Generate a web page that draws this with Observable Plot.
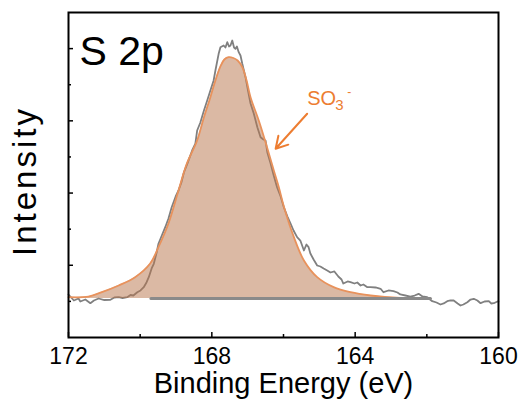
<!DOCTYPE html>
<html><head><meta charset="utf-8">
<script src="https://cdn.jsdelivr.net/npm/d3@7"></script>
<script src="https://cdn.jsdelivr.net/npm/@observablehq/plot@0.6"></script>
<style>
html,body{margin:0;padding:0;background:#fff;}
body{font-family:"Liberation Sans",Arial,sans-serif;}
.ytitle text{letter-spacing:3px;}
</style>
</head><body><div id="chart"></div>
<script>
// Raw S 2p spectrum: [binding energy (eV), intensity (a.u.)]
const rawSpectrum = [
[172.00,1.191],[171.85,1.025],[171.72,1.080],[171.67,0.997],[171.53,1.052],[171.39,0.950],[171.29,1.025],[171.16,1.080],
[171.00,1.038],[170.83,1.044],[170.72,1.108],[170.60,1.116],[170.49,1.094],[170.36,1.116],[170.27,1.177],[170.19,1.163],
[170.08,1.254],[169.99,1.302],[169.90,1.393],[169.82,1.531],[169.76,1.670],[169.68,1.911],[169.62,2.041],[169.54,2.354],
[169.49,2.595],[169.43,2.742],[169.30,3.054],[169.21,3.295],[169.12,3.608],[169.01,3.905],[168.93,4.071],[168.85,4.292],
[168.78,4.569],[168.68,4.819],[168.55,5.179],[168.46,5.372],[168.41,5.732],[168.32,5.954],[168.22,6.286],[168.12,6.591],
[168.04,6.840],[167.95,7.117],[167.90,7.394],[167.81,7.856],[167.76,8.039],[167.67,8.086],[167.62,8.031],[167.57,8.178],
[167.52,8.059],[167.48,8.086],[167.43,8.225],[167.38,8.031],[167.34,7.995],[167.30,8.059],[167.25,7.901],[167.20,7.809],
[167.15,7.580],[167.06,7.209],[166.99,6.840],[166.92,6.480],[166.83,6.203],[166.73,5.824],[166.64,5.547],[166.56,5.483],
[166.50,5.455],[166.45,5.123],[166.36,4.819],[166.28,4.514],[166.18,4.162],[166.08,3.905],[165.99,3.608],[165.89,3.351],
[165.80,3.149],[165.72,2.963],[165.62,2.778],[165.53,2.686],[165.43,2.409],[165.36,2.575],[165.30,2.501],[165.25,2.326],
[165.16,2.160],[165.06,1.994],[164.97,1.966],[164.88,1.911],[164.78,1.855],[164.69,1.800],[164.58,1.828],[164.47,1.689],
[164.38,1.606],[164.33,1.495],[164.21,1.551],[164.13,1.531],[164.02,1.495],[163.94,1.523],[163.85,1.440],[163.77,1.468],
[163.66,1.393],[163.57,1.393],[163.43,1.385],[163.29,1.349],[163.21,1.254],[163.07,1.302],[162.93,1.282],[162.82,1.246],
[162.74,1.191],[162.60,1.163],[162.46,1.135],[162.34,1.163],[162.23,1.210],[162.12,1.135],[161.99,1.116],[161.85,1.005],
[161.73,0.969],[161.62,0.914],[161.53,0.942],[161.43,1.005],[161.34,1.025],[161.25,1.025],[161.14,0.942],[161.06,0.886],
[160.98,0.914],[160.87,0.978],[160.78,1.052],[160.69,1.072],[160.59,1.025],[160.50,0.950],[160.39,0.997],[160.27,1.005],
[160.20,0.942],[160.13,0.950],[160.03,0.997],[160.00,0.997]
];
// Fitted SO3- component: [binding energy (eV), intensity (a.u.)]
const fitSO3 = [
[172.00,1.116],[171.44,1.135],[171.07,1.254],[170.60,1.440],[170.14,1.670],[169.72,2.049],[169.49,2.501],[169.21,3.157],
[168.93,4.071],[168.70,4.810],[168.41,5.455],[168.23,6.065],[168.04,6.655],[167.90,7.117],[167.76,7.505],[167.65,7.699],
[167.53,7.762],[167.40,7.740],[167.28,7.671],[167.15,7.485],[167.03,7.117],[166.92,6.655],[166.69,6.009],[166.46,5.270],
[166.27,4.625],[166.13,4.162],[165.99,3.628],[165.71,2.778],[165.43,2.132],[165.06,1.670],[164.60,1.393],[164.13,1.254],
[163.57,1.163],[162.74,1.094],[161.90,1.080]
];
// Background (flat)
const backgroundBE = [169.7, 161.9];
const backgroundI = [1.08, 1.08];

const xMajorTicks = [172, 168, 164, 160];
const xMinorTicks = [170, 166, 162];
const yMajorTicks = [2, 4, 6, 8];
const yMinorTicks = [1, 3, 5, 7];

const panelLabel = ["S 2p"];
const xTitle = ["Binding Energy (eV)"];
const yTitle = ["Intensity"];
const compLabel = ["SO", "3", "-"];
const arrowFrom = [165.34, 6.195];
const arrowTo = [166.22, 5.226];

const raw = rawSpectrum.map(([be, i]) => ({be, i}));
const fit = fitSO3.map(([be, i]) => ({be, i, base: backgroundI[0]}));
const bg = backgroundBE.map((be, k) => ({be, i: backgroundI[k]}));
const arrowData = [{x1: arrowFrom[0], y1: arrowFrom[1], x2: arrowTo[0], y2: arrowTo[1]}];

const orange = "#ed7d31";
const font = "'Liberation Sans', Arial, sans-serif";

const chart = Plot.plot({
  width: 529,
  height: 400,
  marginLeft: 68,
  marginRight: 31,
  marginTop: 12,
  marginBottom: 63,
  style: {fontFamily: font, background: "#fff", color: "#000"},
  x: {domain: [172, 160], label: null},
  y: {domain: [0, 9], label: null},
  marks: [
    Plot.line(raw, {x: "be", y: "i", stroke: "#808080", strokeWidth: 1.8}),
    Plot.areaY(fit, {x: "be", y1: "base", y2: "i", fill: "#b77349", fillOpacity: 0.5, curve: "catmull-rom"}),
    Plot.line(fit, {x: "be", y: "i", stroke: "#e8925c", strokeWidth: 1.8, curve: "catmull-rom"}),
    Plot.line(bg, {x: "be", y: "i", stroke: "#8a8a8a", strokeWidth: 3}),
    Plot.arrow(arrowData, {x1: "x1", y1: "y1", x2: "x2", y2: "y2", stroke: orange, strokeWidth: 2, headLength: 10}),
    Plot.text([compLabel[0]], {x: () => arrowFrom[0], y: () => arrowFrom[1], text: d => d, textAnchor: "start", lineAnchor: "top", dx: 0, dy: -23, fontSize: 20, fill: orange}),
    Plot.text([compLabel[1]], {x: () => arrowFrom[0], y: () => arrowFrom[1], text: d => d, textAnchor: "start", lineAnchor: "top", dx: 28, dy: -14, fontSize: 15, fill: orange}),
    Plot.text([compLabel[2]], {x: () => arrowFrom[0], y: () => arrowFrom[1], text: d => d, textAnchor: "start", lineAnchor: "top", dx: 40, dy: -26, fontSize: 12, fill: orange}),
    Plot.text(panelLabel, {frameAnchor: "top-left", text: d => d, textAnchor: "start", lineAnchor: "top", dx: 11, dy: 23, fontSize: 41, fill: "#000"}),
    Plot.axisX(xMajorTicks, {tickSize: 0, tickPadding: 10, fontSize: 23, label: null, tickFormat: d => String(d), fill: "#000"}),
    Plot.axisX(xMajorTicks, {tickSize: -5, tickFormat: () => "", label: null, strokeWidth: 1.5}),
    Plot.axisX(xMinorTicks, {tickSize: -3, tickFormat: () => "", label: null, strokeWidth: 1.5}),
    Plot.axisY(yMajorTicks, {tickSize: -5, tickFormat: () => "", label: null, strokeWidth: 1.5}),
    Plot.axisY(yMinorTicks, {tickSize: -3, tickFormat: () => "", label: null, strokeWidth: 1.5}),
    Plot.text(xTitle, {frameAnchor: "bottom", text: d => d, textAnchor: "middle", lineAnchor: "top", dy: 35, fontSize: 29, fill: "#000"}),
    Plot.text(yTitle, {frameAnchor: "left", text: d => d, rotate: -90, textAnchor: "middle", lineAnchor: "middle", dx: -43, dy: 6, fontSize: 33, fill: "#000", className: "ytitle"}),
    Plot.frame({stroke: "#000", strokeWidth: 2})
  ]
});
document.getElementById("chart").appendChild(chart);
</script>
</body></html>
